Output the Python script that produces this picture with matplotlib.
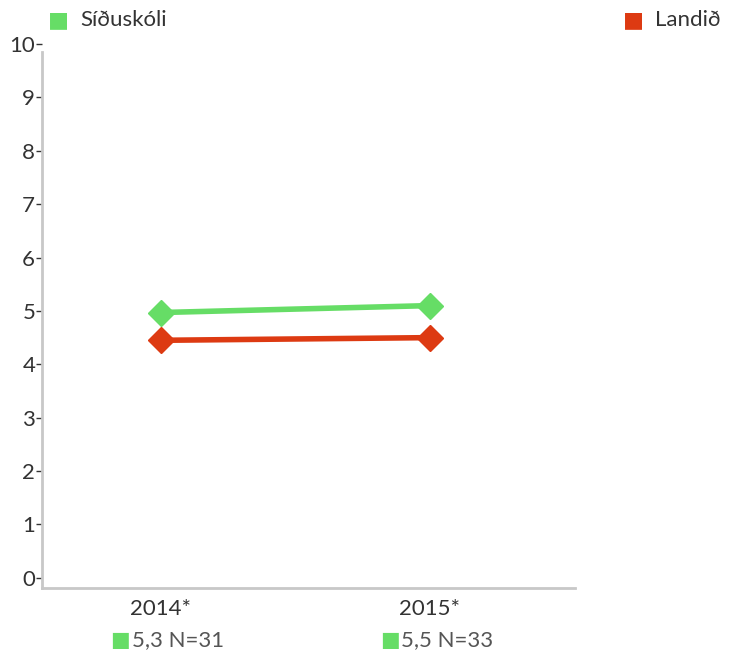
import matplotlib
matplotlib.use("Agg")
import matplotlib.pyplot as plt

years = ["2014*", "2015*"]
sidu = [4.97, 5.10]
landid = [4.45, 4.50]
notes = ["5,3 N=31", "5,5 N=33"]
yticks = list(range(0, 11))

green = "#66DD66"
red = "#DD3A12"
txt = "#333333"

plt.rcParams['font.family'] = ['Lato', 'DejaVu Sans']

fig = plt.figure(figsize=(7.39, 6.57), dpi=100)
ax = fig.add_axes([0.057, 0.105, 0.721, 0.828])

x = list(range(len(years)))
ax.plot(x, sidu, color=green, lw=4, marker="D", ms=13, solid_capstyle="butt")
ax.plot(x, landid, color=red, lw=4, marker="D", ms=13, solid_capstyle="butt")

ax.set_xlim(-0.44, 1.54)
ax.set_ylim(-0.19, 10.0)
ax.set_yticks(yticks)
ax.set_yticklabels([str(v) for v in yticks], fontsize=16, color=txt)
ax.set_xticks(x)
ax.set_xticklabels(years, fontsize=16, color=txt)
ax.tick_params(axis="y", length=4, width=1, color=txt, pad=1)
ax.tick_params(axis="x", length=0, pad=8)

for s in ["top", "right"]:
    ax.spines[s].set_visible(False)
for s in ["left", "bottom"]:
    ax.spines[s].set_color("#c8c8c8")
    ax.spines[s].set_linewidth(2)
ax.spines["left"].set_bounds(-0.19, 9.85)

# legend
fig.text(48/739, 1-20/657, "\u25A0", color=green, fontsize=16, va="center", ha="left")
fig.text(80/739, 1-20/657, "Síðuskóli", color=txt, fontsize=16, va="center", ha="left")
fig.text(623/739, 1-20/657, "\u25A0", color=red, fontsize=16, va="center", ha="left")
fig.text(655/739, 1-20/657, "Landið", color=txt, fontsize=16, va="center", ha="left")

# notes under categories
for xi, n in zip(x, notes):
    ax.annotate("\u25A0", xy=(xi, 0), xycoords=("data", "axes fraction"),
                xytext=(-50, -52), textcoords="offset points" if False else "offset pixels",
                color=green, fontsize=15, va="center", ha="left")
    ax.annotate(n, xy=(xi, 0), xycoords=("data", "axes fraction"),
                xytext=(-29, -52), textcoords="offset pixels",
                color="#555555", fontsize=16, va="center", ha="left")

fig.savefig("out.png", dpi=100)
